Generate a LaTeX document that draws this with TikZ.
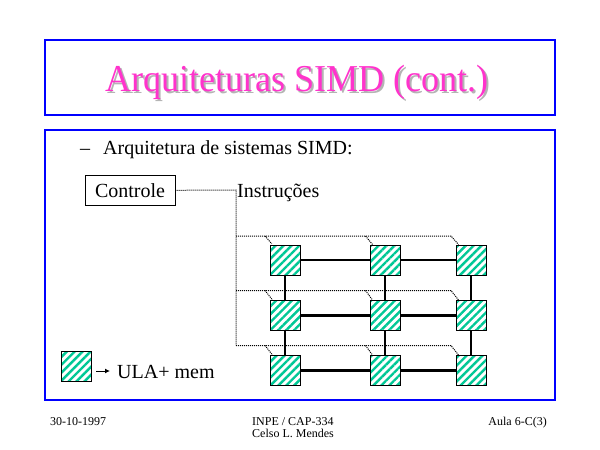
\documentclass[tikz,border=0pt]{standalone}
\usepackage{fontspec}
\setmainfont{Liberation Serif}
\usetikzlibrary{patterns.meta,arrows.meta}
\definecolor{titlepink}{RGB}{255,51,204}
\definecolor{shadowgray}{RGB}{180,180,180}
\definecolor{hatchteal}{RGB}{0,200,150}
\definecolor{frameblue}{RGB}{0,0,255}
\begin{document}
\begin{tikzpicture}[x=1pt,y=-1pt,
  frame/.style={draw=frameblue,line width=1.3pt},
  pe/.style={draw=black,line width=1pt,minimum width=30pt,minimum height=30pt,inner sep=0pt,
    pattern={Lines[angle=45,distance=5.6pt,line width=2.4pt]},pattern color=hatchteal},
  link/.style={line width=2.4pt},
  instr/.style={line width=1pt,dash pattern=on 1pt off 1pt},
  titlefont/.style={font=\fontsize{38}{44}\selectfont,inner sep=0pt,anchor=base},
  txt/.style={font=\fontsize{20}{24}\selectfont,inner sep=0pt},
  foot/.style={font=\fontsize{12}{14}\selectfont,inner sep=0pt}]
\useasboundingbox[fill=white] (0,0) rectangle (600,450);
% frames
\draw[frame] (45,40) rectangle (555,115);
\draw[frame] (45,130) rectangle (555,400);
% title
\node[titlefont,text=shadowgray] (tshadow) at (299,93) {\scalebox{0.95}[1]{Arquiteturas SIMD (cont.)}};
\node[titlefont,text=titlepink] (title) at (297,91) {\scalebox{0.95}[1]{Arquiteturas SIMD (cont.)}};
% bullet
\node[txt,anchor=base west] (dash) at (80,154) {--};
\node[txt,anchor=base west] (sub) at (103,154) {Arquitetura de sistemas SIMD:};
% controle
\node[txt,draw,line width=0.8pt,minimum width=90pt,minimum height=30.5pt] (ctrl) at (130,190.3) {Controle};
\node[txt,anchor=base west] (instr) at (237,197) {Instruções};
% PE squares
\node[pe] (p11) at (285,260) {};
\node[pe] (p12) at (385,260) {};
\node[pe] (p13) at (471,260) {};
\node[pe] (p21) at (285,315.5) {};
\node[pe] (p22) at (385,315.5) {};
\node[pe] (p23) at (471,315.5) {};
\node[pe] (p31) at (285,370.5) {};
\node[pe] (p32) at (385,370.5) {};
\node[pe] (p33) at (471,370.5) {};
% mesh links
\foreach \r in {1,2,3}{
  \draw[link] (p\r1) -- (p\r2);
  \draw[link] (p\r2) -- (p\r3);
}
\foreach \c in {1,2,3}{
  \draw[link] (p1\c) -- (p2\c);
  \draw[link] (p2\c) -- (p3\c);
}
% instruction bus (dotted)
\coordinate (bus0) at (236,190);
\coordinate (h1) at (236,236);
\coordinate (h2) at (236,290.5);
\coordinate (h3) at (236,345.5);
\draw[instr] (ctrl.east) -- (bus0) -- (h3);
\foreach \r/\y in {1/236,2/290.5,3/345.5}{
  \coordinate (e\r) at (451,\y);
  \coordinate (b\r1) at (265,\y);
  \coordinate (b\r2) at (365.5,\y);
  \draw[instr] (h\r) -- (e\r) -- ([xshift=3pt]p\r3.north west);
  \draw[instr] (b\r1) -- ([xshift=3pt]p\r1.north west);
  \draw[instr] (b\r2) -- ([xshift=3pt]p\r2.north west);
}
% legend
\node[pe] (leg) at (76,366.5) {};
\coordinate (a0) at (96,371);
\coordinate (a1) at (110,371);
\draw[line width=1pt,-{Latex[length=5pt,width=5pt]}] (a0) -- (a1);
\node[txt,anchor=base west] (ula) at (117,378) {ULA+ mem};
% footer
\node[foot,anchor=base west] (date) at (50,425) {30-10-1997};
\node[foot,anchor=base west] (inpe) at (252,425) {INPE / CAP-334};
\node[foot,anchor=base west] (celso) at (252,437) {Celso L. Mendes};
\node[foot,anchor=base east] (aula) at (547,425) {Aula 6-C(3)};
\end{tikzpicture}
\end{document}
